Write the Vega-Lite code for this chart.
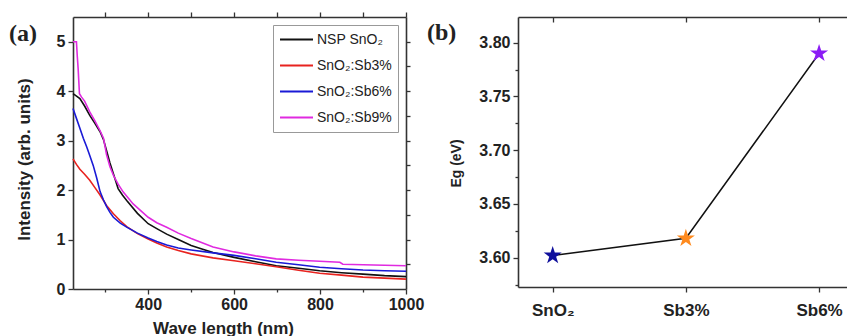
{
  "$schema": "https://vega.github.io/schema/vega-lite/v6.json",
  "padding": {"left": 9, "top": 11, "right": 0, "bottom": 0},
  "spacing": 3,
  "resolve": {"scale": {"color": "independent"}, "legend": {"color": "independent"}},
  "config": {
    "font": "Liberation Sans",
    "view": {"stroke": null},
    "axis": {"labelFont": "Liberation Sans", "labelFontWeight": "bold", "labelFontSize": 16, "labelColor": "#222222", "titleFont": "Liberation Sans", "titleFontWeight": "bold", "titleColor": "#222222", "domainColor": "#333333", "domainWidth": 1.6, "tickColor": "#333333", "tickWidth": 1.3, "grid": false, "labelFlush": false, "labelOverlap": false}
  },
  "hconcat": [
    {
      "width": 333,
      "height": 272,
      "title": {"text": "(a)", "anchor": "start", "frame": "group", "dx": -64, "offset": -59, "baseline": "bottom", "font": "Liberation Serif", "fontSize": 24, "fontWeight": "bold", "color": "#222222"},
      "data": {"values": [
        {"s": "NSP SnO₂", "wl": 225, "v": 3.95}, {"s": "NSP SnO₂", "wl": 230, "v": 3.92}, {"s": "NSP SnO₂", "wl": 241, "v": 3.85}, {"s": "NSP SnO₂", "wl": 252, "v": 3.7}, {"s": "NSP SnO₂", "wl": 264, "v": 3.51}, {"s": "NSP SnO₂", "wl": 276, "v": 3.35}, {"s": "NSP SnO₂", "wl": 288, "v": 3.18}, {"s": "NSP SnO₂", "wl": 296, "v": 3.02}, {"s": "NSP SnO₂", "wl": 303, "v": 2.8}, {"s": "NSP SnO₂", "wl": 311, "v": 2.55}, {"s": "NSP SnO₂", "wl": 319, "v": 2.33}, {"s": "NSP SnO₂", "wl": 330, "v": 2.03}, {"s": "NSP SnO₂", "wl": 340, "v": 1.9}, {"s": "NSP SnO₂", "wl": 350, "v": 1.79}, {"s": "NSP SnO₂", "wl": 375, "v": 1.53}, {"s": "NSP SnO₂", "wl": 400, "v": 1.32}, {"s": "NSP SnO₂", "wl": 420, "v": 1.22}, {"s": "NSP SnO₂", "wl": 443, "v": 1.11}, {"s": "NSP SnO₂", "wl": 470, "v": 1.0}, {"s": "NSP SnO₂", "wl": 500, "v": 0.88}, {"s": "NSP SnO₂", "wl": 525, "v": 0.81}, {"s": "NSP SnO₂", "wl": 551, "v": 0.74}, {"s": "NSP SnO₂", "wl": 575, "v": 0.69}, {"s": "NSP SnO₂", "wl": 600, "v": 0.64}, {"s": "NSP SnO₂", "wl": 650, "v": 0.55}, {"s": "NSP SnO₂", "wl": 698, "v": 0.47}, {"s": "NSP SnO₂", "wl": 750, "v": 0.42}, {"s": "NSP SnO₂", "wl": 799, "v": 0.37}, {"s": "NSP SnO₂", "wl": 850, "v": 0.33}, {"s": "NSP SnO₂", "wl": 900, "v": 0.3}, {"s": "NSP SnO₂", "wl": 950, "v": 0.27}, {"s": "NSP SnO₂", "wl": 1000, "v": 0.25},
        {"s": "SnO₂:Sb3%", "wl": 225, "v": 2.63}, {"s": "SnO₂:Sb3%", "wl": 233, "v": 2.52}, {"s": "SnO₂:Sb3%", "wl": 241, "v": 2.42}, {"s": "SnO₂:Sb3%", "wl": 252, "v": 2.32}, {"s": "SnO₂:Sb3%", "wl": 264, "v": 2.2}, {"s": "SnO₂:Sb3%", "wl": 276, "v": 2.05}, {"s": "SnO₂:Sb3%", "wl": 288, "v": 1.9}, {"s": "SnO₂:Sb3%", "wl": 296, "v": 1.79}, {"s": "SnO₂:Sb3%", "wl": 303, "v": 1.69}, {"s": "SnO₂:Sb3%", "wl": 319, "v": 1.52}, {"s": "SnO₂:Sb3%", "wl": 335, "v": 1.38}, {"s": "SnO₂:Sb3%", "wl": 350, "v": 1.26}, {"s": "SnO₂:Sb3%", "wl": 375, "v": 1.12}, {"s": "SnO₂:Sb3%", "wl": 400, "v": 1.01}, {"s": "SnO₂:Sb3%", "wl": 420, "v": 0.93}, {"s": "SnO₂:Sb3%", "wl": 443, "v": 0.85}, {"s": "SnO₂:Sb3%", "wl": 470, "v": 0.78}, {"s": "SnO₂:Sb3%", "wl": 500, "v": 0.71}, {"s": "SnO₂:Sb3%", "wl": 551, "v": 0.63}, {"s": "SnO₂:Sb3%", "wl": 600, "v": 0.57}, {"s": "SnO₂:Sb3%", "wl": 650, "v": 0.51}, {"s": "SnO₂:Sb3%", "wl": 698, "v": 0.45}, {"s": "SnO₂:Sb3%", "wl": 750, "v": 0.38}, {"s": "SnO₂:Sb3%", "wl": 799, "v": 0.32}, {"s": "SnO₂:Sb3%", "wl": 850, "v": 0.28}, {"s": "SnO₂:Sb3%", "wl": 900, "v": 0.24}, {"s": "SnO₂:Sb3%", "wl": 950, "v": 0.22}, {"s": "SnO₂:Sb3%", "wl": 1000, "v": 0.2},
        {"s": "SnO₂:Sb6%", "wl": 225, "v": 3.65}, {"s": "SnO₂:Sb6%", "wl": 233, "v": 3.45}, {"s": "SnO₂:Sb6%", "wl": 241, "v": 3.25}, {"s": "SnO₂:Sb6%", "wl": 249, "v": 3.05}, {"s": "SnO₂:Sb6%", "wl": 257, "v": 2.87}, {"s": "SnO₂:Sb6%", "wl": 264, "v": 2.7}, {"s": "SnO₂:Sb6%", "wl": 272, "v": 2.5}, {"s": "SnO₂:Sb6%", "wl": 280, "v": 2.25}, {"s": "SnO₂:Sb6%", "wl": 288, "v": 1.97}, {"s": "SnO₂:Sb6%", "wl": 296, "v": 1.8}, {"s": "SnO₂:Sb6%", "wl": 303, "v": 1.67}, {"s": "SnO₂:Sb6%", "wl": 311, "v": 1.55}, {"s": "SnO₂:Sb6%", "wl": 319, "v": 1.45}, {"s": "SnO₂:Sb6%", "wl": 335, "v": 1.33}, {"s": "SnO₂:Sb6%", "wl": 350, "v": 1.25}, {"s": "SnO₂:Sb6%", "wl": 375, "v": 1.13}, {"s": "SnO₂:Sb6%", "wl": 400, "v": 1.03}, {"s": "SnO₂:Sb6%", "wl": 420, "v": 0.96}, {"s": "SnO₂:Sb6%", "wl": 443, "v": 0.89}, {"s": "SnO₂:Sb6%", "wl": 470, "v": 0.83}, {"s": "SnO₂:Sb6%", "wl": 500, "v": 0.79}, {"s": "SnO₂:Sb6%", "wl": 551, "v": 0.73}, {"s": "SnO₂:Sb6%", "wl": 600, "v": 0.68}, {"s": "SnO₂:Sb6%", "wl": 650, "v": 0.61}, {"s": "SnO₂:Sb6%", "wl": 698, "v": 0.54}, {"s": "SnO₂:Sb6%", "wl": 750, "v": 0.49}, {"s": "SnO₂:Sb6%", "wl": 799, "v": 0.44}, {"s": "SnO₂:Sb6%", "wl": 850, "v": 0.41}, {"s": "SnO₂:Sb6%", "wl": 900, "v": 0.385}, {"s": "SnO₂:Sb6%", "wl": 950, "v": 0.37}, {"s": "SnO₂:Sb6%", "wl": 1000, "v": 0.36},
        {"s": "SnO₂:Sb9%", "wl": 225, "v": 5.0}, {"s": "SnO₂:Sb9%", "wl": 233, "v": 5.0}, {"s": "SnO₂:Sb9%", "wl": 235, "v": 4.7}, {"s": "SnO₂:Sb9%", "wl": 237, "v": 4.45}, {"s": "SnO₂:Sb9%", "wl": 240, "v": 3.95}, {"s": "SnO₂:Sb9%", "wl": 245, "v": 3.88}, {"s": "SnO₂:Sb9%", "wl": 252, "v": 3.8}, {"s": "SnO₂:Sb9%", "wl": 264, "v": 3.58}, {"s": "SnO₂:Sb9%", "wl": 276, "v": 3.4}, {"s": "SnO₂:Sb9%", "wl": 288, "v": 3.2}, {"s": "SnO₂:Sb9%", "wl": 296, "v": 3.05}, {"s": "SnO₂:Sb9%", "wl": 303, "v": 2.72}, {"s": "SnO₂:Sb9%", "wl": 311, "v": 2.47}, {"s": "SnO₂:Sb9%", "wl": 319, "v": 2.3}, {"s": "SnO₂:Sb9%", "wl": 330, "v": 2.12}, {"s": "SnO₂:Sb9%", "wl": 342, "v": 1.96}, {"s": "SnO₂:Sb9%", "wl": 365, "v": 1.72}, {"s": "SnO₂:Sb9%", "wl": 400, "v": 1.45}, {"s": "SnO₂:Sb9%", "wl": 420, "v": 1.34}, {"s": "SnO₂:Sb9%", "wl": 443, "v": 1.25}, {"s": "SnO₂:Sb9%", "wl": 470, "v": 1.13}, {"s": "SnO₂:Sb9%", "wl": 500, "v": 1.02}, {"s": "SnO₂:Sb9%", "wl": 551, "v": 0.85}, {"s": "SnO₂:Sb9%", "wl": 600, "v": 0.75}, {"s": "SnO₂:Sb9%", "wl": 650, "v": 0.67}, {"s": "SnO₂:Sb9%", "wl": 698, "v": 0.61}, {"s": "SnO₂:Sb9%", "wl": 750, "v": 0.58}, {"s": "SnO₂:Sb9%", "wl": 799, "v": 0.56}, {"s": "SnO₂:Sb9%", "wl": 846, "v": 0.54}, {"s": "SnO₂:Sb9%", "wl": 853, "v": 0.5}, {"s": "SnO₂:Sb9%", "wl": 900, "v": 0.49}, {"s": "SnO₂:Sb9%", "wl": 950, "v": 0.48}, {"s": "SnO₂:Sb9%", "wl": 1000, "v": 0.47}
      ]},
      "layer": [
        {
          "mark": {"type": "line", "strokeWidth": 1.6},
          "encoding": {
            "x": {"field": "wl", "type": "quantitative", "scale": {"domain": [225, 1000], "nice": false, "zero": false},
              "axis": {"orient": "bottom", "title": "Wave length (nm)", "format": "d", "values": [300, 400, 500, 600, 700, 800, 900, 1000], "labelExpr": "datum.value % 200 === 0 ? datum.label : ''", "tickSize": {"condition": {"test": "datum.value % 200 === 0", "value": 5}, "value": 3}, "labelPadding": 2, "titleX": 150, "titleY": 31, "titleBaseline": "top", "titleFontSize": 17}},
            "y": {"field": "v", "type": "quantitative", "scale": {"domain": [0, 5.5], "nice": false},
              "axis": {"orient": "left", "title": "Intensity (arb. units)", "format": "d", "values": [0, 0.5, 1, 1.5, 2, 2.5, 3, 3.5, 4, 4.5, 5], "labelExpr": "datum.value % 1 === 0 ? datum.label : ''", "tickSize": {"condition": {"test": "datum.value % 1 === 0", "value": 5}, "value": 3}, "labelPadding": 3, "titleX": -40, "titleY": 142, "titleFontSize": 17}},
            "color": {"field": "s", "type": "nominal",
              "scale": {"domain": ["NSP SnO₂", "SnO₂:Sb3%", "SnO₂:Sb6%", "SnO₂:Sb9%"], "range": ["#111111", "#e8231f", "#1a1ad6", "#e02ae0"]},
              "legend": {"title": null, "orient": "top-right", "offset": 8, "symbolType": "stroke", "symbolSize": 1089, "symbolStrokeWidth": 2, "clipHeight": 17, "labelFontSize": 14, "labelFont": "Liberation Sans", "labelColor": "#222222", "strokeColor": "#999999", "fillColor": "white", "padding": 6, "rowPadding": 9, "labelOffset": 3}}
          }
        },
        {
          "mark": {"type": "line", "strokeOpacity": 0},
          "encoding": {
            "x": {"field": "wl", "type": "quantitative", "scale": {"domain": [225, 1000], "nice": false, "zero": false},
              "axis": {"orient": "top", "labels": false, "title": null, "values": [300, 400, 500, 600, 700, 800, 900, 1000], "tickSize": 5}},
            "y": {"field": "v", "type": "quantitative", "scale": {"domain": [0, 5.5], "nice": false},
              "axis": {"orient": "right", "labels": false, "title": null, "values": [0.5, 1, 1.5, 2, 2.5, 3, 3.5, 4, 4.5, 5], "tickSize": 4}}
          }
        }
      ],
      "resolve": {"axis": {"x": "independent", "y": "independent"}}
    },
    {
      "width": 329,
      "height": 270,
      "title": {"text": "(b)", "anchor": "start", "frame": "group", "dx": -91, "offset": -53, "baseline": "bottom", "font": "Liberation Serif", "fontSize": 24, "fontWeight": "bold", "color": "#222222"},
      "data": {"values": [
        {"sample": "SnO₂", "Eg": 3.602},
        {"sample": "Sb3%", "Eg": 3.618},
        {"sample": "Sb6%", "Eg": 3.79}
      ]},
      "layer": [
        {
          "mark": {"type": "line", "color": "#111111", "strokeWidth": 1.5},
          "encoding": {
            "x": {"field": "sample", "type": "nominal", "sort": null, "scale": {"type": "point", "domain": ["SnO₂", "Sb3%", "Sb6%"], "padding": 0.235, "align": 0.554},
              "axis": {"orient": "bottom", "title": null, "labelAngle": 0, "tickSize": 5, "labelPadding": 10, "labelFontSize": 17}},
            "y": {"field": "Eg", "type": "quantitative", "scale": {"domain": [3.5727, 3.8239], "nice": false, "zero": false},
              "axis": {"orient": "left", "title": "Eg (eV)", "format": ".2f", "values": [3.575, 3.6, 3.625, 3.65, 3.675, 3.7, 3.725, 3.75, 3.775, 3.8], "labelExpr": "abs(datum.value * 20 - round(datum.value * 20)) < 0.001 ? datum.label : ''", "tickSize": {"condition": {"test": "abs(datum.value * 20 - round(datum.value * 20)) < 0.001", "value": 5}, "value": 3}, "labelPadding": 3, "titleX": -55, "titleY": 146, "titleFontSize": 14}},
            "order": {"value": null}
          }
        },
        {
          "mark": {"type": "point", "shape": "M0,-1L0.225,-0.309L0.951,-0.309L0.363,0.118L0.588,0.809L0,0.382L-0.588,0.809L-0.363,0.118L-0.951,-0.309L-0.225,-0.309Z", "filled": true, "size": 360, "opacity": 1},
          "encoding": {
            "x": {"field": "sample", "type": "nominal", "sort": null, "scale": {"type": "point", "domain": ["SnO₂", "Sb3%", "Sb6%"], "padding": 0.235, "align": 0.554}, "axis": null},
            "y": {"field": "Eg", "type": "quantitative", "scale": {"domain": [3.5727, 3.8239], "nice": false, "zero": false}, "axis": null},
            "color": {"field": "sample", "type": "nominal", "scale": {"domain": ["SnO₂", "Sb3%", "Sb6%"], "range": ["#10109c", "#ff8a1e", "#8b1cf5"]}, "legend": null}
          }
        },
        {
          "mark": {"type": "point", "opacity": 0},
          "encoding": {
            "x": {"field": "sample", "type": "nominal", "sort": null, "scale": {"type": "point", "domain": ["SnO₂", "Sb3%", "Sb6%"], "padding": 0.235, "align": 0.554},
              "axis": {"orient": "top", "labels": false, "title": null, "tickSize": -5}},
            "y": {"field": "Eg", "type": "quantitative", "scale": {"domain": [3.5727, 3.8239], "nice": false, "zero": false}, "axis": null}
          }
        }
      ],
      "resolve": {"axis": {"x": "independent", "y": "independent"}}
    }
  ]
}
